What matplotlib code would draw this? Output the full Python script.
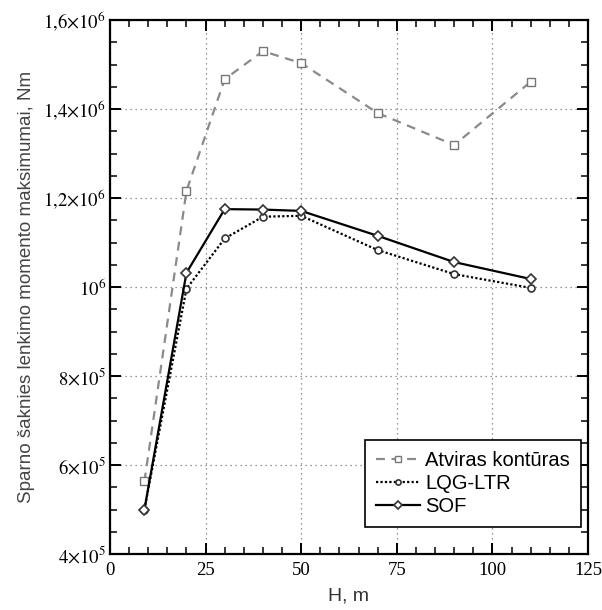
import matplotlib
matplotlib.use('Agg')
import matplotlib.pyplot as plt
from matplotlib.ticker import MultipleLocator, FixedLocator

plt.rcParams['mathtext.fontset'] = 'stix'

# H, m
h = [9, 20, 30, 40, 50, 70, 90, 110]

# root bending moment maxima, Nm
atviras = [5.63e5, 1.216e6, 1.467e6, 1.530e6, 1.503e6, 1.391e6, 1.319e6, 1.461e6]
lqg = [5.0e5, 0.996e6, 1.109e6, 1.158e6, 1.160e6, 1.083e6, 1.029e6, 0.998e6]
sof = [5.0e5, 1.032e6, 1.175e6, 1.174e6, 1.171e6, 1.115e6, 1.056e6, 1.018e6]

ytick_vals = [4e5, 6e5, 8e5, 1e6, 1.2e6, 1.4e6, 1.6e6]
ytick_text = [r'$4{\times}10^5$', r'$6{\times}10^5$', r'$8{\times}10^5$', r'$10^6$',
              r'$1{,}2{\times}10^6$', r'$1{,}4{\times}10^6$', r'$1{,}6{\times}10^6$']

fig = plt.figure(figsize=(6.02, 6.10), dpi=100)
ax = fig.add_axes([110 / 602, 1 - 554 / 610, 478 / 602, 534 / 610])

ax.plot(h, atviras, color='#8a8a8a', linestyle=(0, (4, 3)), linewidth=1.6,
        marker='s', markersize=5.5, markerfacecolor='white', markeredgecolor='#777777',
        markeredgewidth=1.0, label='Atviras kontūras', zorder=3)
ax.plot(h, lqg, color='black', linestyle=(0, (1, 1)), linewidth=1.6,
        marker='o', markersize=5, markerfacecolor='white', markeredgecolor='#333333',
        markeredgewidth=1.2, label='LQG-LTR', zorder=4)
ax.plot(h, sof, color='black', linestyle='-', linewidth=1.6,
        marker='D', markersize=5.5, markerfacecolor='white', markeredgecolor='#333333',
        markeredgewidth=1.2, label='SOF', zorder=5)

ax.set_xlim(0, 125)
ax.set_ylim(4e5, 1.6e6)
ax.xaxis.set_major_locator(MultipleLocator(25))
ax.xaxis.set_minor_locator(MultipleLocator(5))
ax.yaxis.set_major_locator(FixedLocator(ytick_vals))
ax.yaxis.set_minor_locator(MultipleLocator(5e4))
ax.set_yticklabels(ytick_text)

for label in ax.get_xticklabels():
    label.set_fontfamily('Liberation Serif')

ax.tick_params(which='both', direction='in', top=True, right=True, colors='black',
               labelsize=13.5)
ax.tick_params(which='major', length=8, width=1.4)
ax.tick_params(which='minor', length=5, width=1.1)
ax.tick_params(axis='y', pad=3)
ax.tick_params(axis='x', pad=6)
for s in ax.spines.values():
    s.set_linewidth(1.6)

ax.grid(True, which='major', linestyle=(0, (1, 3)), color='#777777', linewidth=0.9)

ax.set_xlabel('H, m', fontsize=14, family='Liberation Sans', color='#333333', labelpad=6)
ax.set_ylabel('Sparno šaknies lenkimo momento maksimumai, Nm', fontsize=13.5,
              family='Liberation Sans', color='#444444', labelpad=6)

leg = ax.legend(loc='lower right', bbox_to_anchor=(0.985, 0.05),
                prop={'family': 'Liberation Sans', 'size': 14.5},
                handlelength=2.2, handletextpad=0.25, borderpad=0.55,
                labelspacing=0.2, fancybox=False, framealpha=1, edgecolor='black',
                markerscale=0.75, borderaxespad=0)
leg.get_frame().set_linewidth(1.2)

fig.savefig('out.png', dpi=100)
